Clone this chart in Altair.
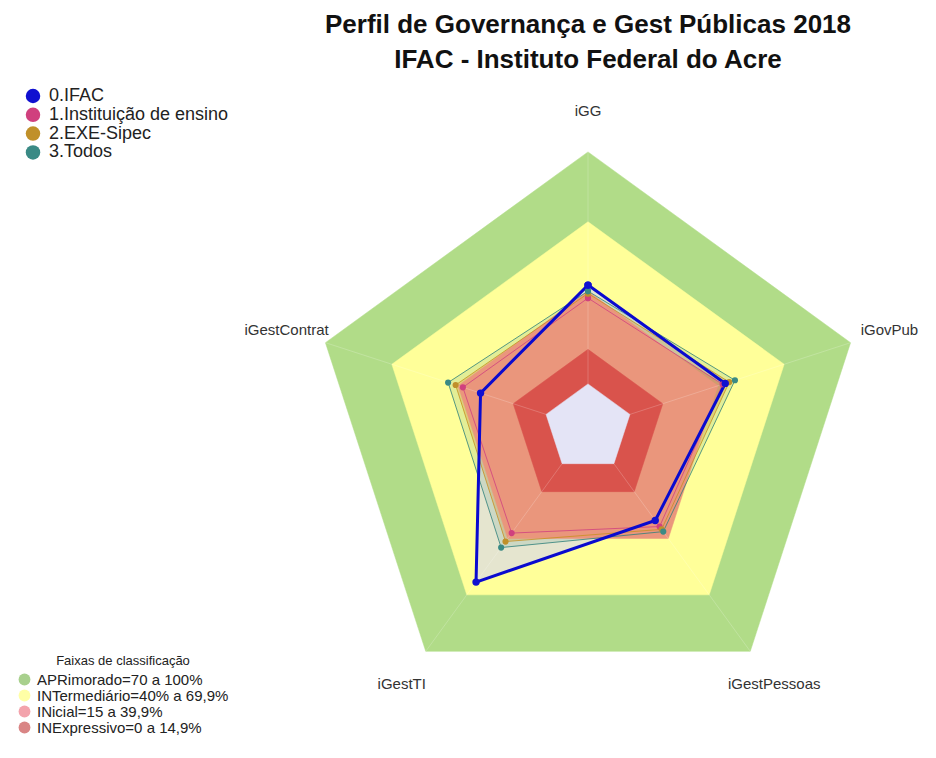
import altair as alt
import pandas as pd

# ---------------- data ----------------
eixos = ["iGG", "iGovPub", "iGestPessoas", "iGestTI", "iGestContrat"]
series = ["0.IFAC", "1.Instituição de ensino", "2.EXE-Sipec", "3.Todos"]
ifac = [42.6, 43.2, 30.3, 63.1, 29.7]
instituicao = [37.0, 42.0, 33.5, 37.0, 37.7]
exe_sipec = [39.0, 45.0, 35.0, 41.5, 41.0]
todos = [40.0, 47.6, 36.2, 44.7, 44.4]
valores = [ifac, instituicao, exe_sipec, todos]

faixas = ["APRimorado=70 a 100%", "INTermediário=40% a 69,9%",
          "INicial=15 a 39,9%", "INExpressivo=0 a 14,9%"]
limites = [100, 69.9, 39.9, 14.9]

# ---------------- styles ----------------
FONT = "Liberation Sans"
OFF = 19          # radial offset (hole in the middle)
UNIT = 2.32       # px per unit
W, H = 920, 660
CX, CY = 580, 340
xdom = [-CX / UNIT, (W - CX) / UNIT]
ydom = [-(H - CY) / UNIT, CY / UNIT]

band_fill = ["#B1DC88", "#FFFF99", "#EA967C", "#D9534C"]
band_legend = ["#A8D08D", "#FFFFA6", "#F3A3AC", "#D98585"]
hole_fill = "#E4E4F6"
serie_color = ["#1010D0", "#D0407E", "#C0902A", "#3A8A85"]
serie_line = ["#0A0ACF", "#D04080", "#C89020", "#2E7F7A"]
serie_fill = ["#D4D4F4", "#EA967C", "#E8A040", "#3A8A85"]
serie_fill_op = [0.6, 0.9, 0.35, 0.15]

# ---------------- tables ----------------
def ring(v):
    return [{"ord": k, "eixo": eixos[k % 5], "ang": 90 - 72 * (k % 5), "valor": v}
            for k in range(6)]

band_rows = []
for f, L in zip(faixas, limites):
    for r in ring(L):
        r["faixa"] = f
        band_rows.append(r)
for r in ring(0):
    r["faixa"] = "centro"
    band_rows.append(r)
bands = pd.DataFrame(band_rows)

ser_rows = []
for s, vals in zip(series, valores):
    for k in range(6):
        i = k % 5
        ser_rows.append({"serie": s, "ord": k, "eixo": eixos[i],
                         "ang": 90 - 72 * i, "valor": vals[i]})
ser = pd.DataFrame(ser_rows)

spoke_rows = []
for i, e in enumerate(eixos):
    for k, v in enumerate([0, 100]):
        spoke_rows.append({"eixo": e, "ord": k, "ang": 90 - 72 * i, "valor": v})
spokes = pd.DataFrame(spoke_rows)

labels = pd.DataFrame({"eixo": eixos, "ang": [90 - 72 * i for i in range(5)]})
leg_bands = pd.DataFrame({"faixa": faixas, "valor": [0] * 4, "ang": [0] * 4})

X = alt.X("x:Q", scale=alt.Scale(domain=xdom, nice=False, zero=False), axis=None)
Y = alt.Y("y:Q", scale=alt.Scale(domain=ydom, nice=False, zero=False), axis=None)


def polar(ch, r_expr="datum.valor + %d" % OFF):
    return ch.transform_calculate(
        x="(%s) * cos(datum.ang * PI / 180)" % r_expr,
        y="(%s) * sin(datum.ang * PI / 180)" % r_expr,
    )


def band_layer(f, c):
    return polar(alt.Chart(bands).mark_line(fill=c, stroke=c, strokeWidth=0.5)
                 .encode(x=X, y=Y, order="ord:Q")
                 .transform_filter(alt.datum.faixa == f))


layers = []
# outer bands
layers.append(band_layer(faixas[0], band_fill[0]))
layers.append(band_layer(faixas[1], band_fill[1]))
# series fills
for s, c, op in zip(series, serie_fill, serie_fill_op):
    layers.append(
        polar(alt.Chart(ser).mark_line(fill=c, fillOpacity=op, strokeOpacity=0)
              .encode(x=X, y=Y, order="ord:Q")
              .transform_filter(alt.datum.serie == s))
    )
# inner bands
layers.append(band_layer(faixas[2], band_fill[2]))
layers.append(band_layer(faixas[3], band_fill[3]))
layers.append(band_layer("centro", hole_fill))
# spokes
layers.append(
    polar(alt.Chart(spokes).mark_line(color="white", strokeOpacity=0.2, strokeWidth=1)
          .encode(x=X, y=Y, detail="eixo:N", order="ord:Q"))
)
# series lines (IFAC on top)
for s, c in list(zip(series, serie_line))[::-1]:
    w = 3 if s == series[0] else 1
    op = 1 if s == series[0] else 0.8
    layers.append(
        polar(alt.Chart(ser).mark_line(color=c, strokeWidth=w, strokeOpacity=op)
              .encode(x=X, y=Y, order="ord:Q")
              .transform_filter(alt.datum.serie == s))
    )

# points + series legend
serie_legend = alt.Legend(
    title=None, orient="none", legendX=16, legendY=-1,
    symbolType="circle", symbolSize=210, symbolOpacity=1,
    labelFont=FONT, labelFontSize=18, labelColor="#222", labelLimit=0,
    rowPadding=0.8, padding=0, labelOffset=7)
serie_scale = alt.Scale(domain=series, range=serie_color)
for sel, sz in [(series[1:][::-1], 38), ([series[0]], 55)]:
    layers.append(
        polar(alt.Chart(ser).mark_circle(opacity=1, size=sz)
              .encode(x=X, y=Y,
                      color=alt.Color("serie:N", scale=serie_scale, legend=serie_legend))
              .transform_filter(alt.FieldOneOfPredicate(field="serie", oneOf=sel)))
    )

# band legend (invisible marks)
layers.append(
    polar(alt.Chart(leg_bands).mark_point(filled=True, opacity=0)
          .encode(
              x=X, y=Y,
              fill=alt.Fill("faixa:N",
                            scale=alt.Scale(domain=faixas, range=band_legend),
                            legend=alt.Legend(
                                title="Faixas de classificação", orient="none",
                                legendX=9, legendY=567, titleAnchor="middle",
                                titleFont=FONT, titleFontSize=13, titleFontWeight="normal",
                                titleColor="#222", titlePadding=4,
                                symbolType="circle", symbolSize=140, symbolOpacity=1,
                                labelFont=FONT, labelFontSize=15, labelColor="#222",
                                labelLimit=0, rowPadding=0, padding=0, labelOffset=5)),
          ))
)
# axis labels
layers.append(
    polar(alt.Chart(labels).mark_text(font=FONT, fontSize=15, color="#333",
                                      align="center", baseline="middle")
          .encode(x=X, y=Y, text="eixo:N"), r_expr="136.6")
)

chart = alt.layer(*layers).properties(
    width=W, height=H,
    background="white",
    autosize=alt.AutoSizeParams(type="none"),
    padding={"top": 80, "left": 0, "right": 0, "bottom": 0},
    title=alt.TitleParams(
        text=["Perfil de Governança e Gest Públicas 2018",
              "IFAC - Instituto Federal do Acre"],
        font=FONT, fontSize=26, fontWeight="bold", color="#111",
        anchor="middle", dx=120, offset=14, lineHeight=35,
    ),
).configure_view(strokeWidth=0, stroke="transparent")

chart.save("out.html", embed_options={"renderer": "svg", "actions": False})
